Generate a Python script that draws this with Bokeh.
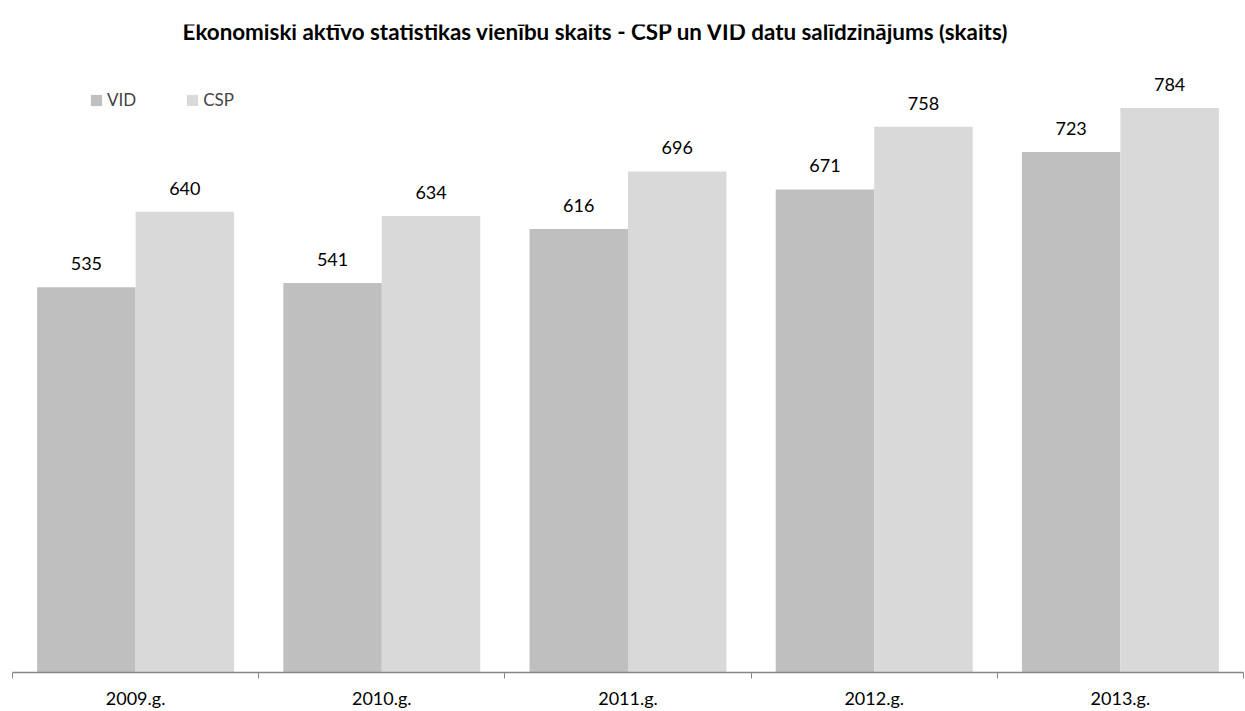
from bokeh.plotting import figure
from bokeh.models import (ColumnDataSource, Range1d, LinearAxis, FixedTicker,
                          LabelSet, Legend, LegendItem, Label)
from bokeh.core.properties import value
from bokeh.embed import file_html
from bokeh.resources import INLINE
import numpy as np

# ---- data ----
categories = ["2009.g.", "2010.g.", "2011.g.", "2012.g.", "2013.g."]
series_names = ["VID", "CSP"]
vid_values = [535, 541, 616, 671, 723]
csp_values = [640, 634, 696, 758, 784]
title_text = "Ekonomiski aktīvo statistikas vienību skaits - CSP un VID datu salīdzinājums (skaits)"

FONT = "Lato"
idx = np.arange(len(categories))

src = ColumnDataSource(dict(
    xv=idx + 0.3, xc=idx + 0.7,
    vid=vid_values, csp=csp_values,
    vid_lbl=[str(v) for v in vid_values],
    csp_lbl=[str(v) for v in csp_values],
))

p = figure(width=1245, height=711, output_backend="svg", toolbar_location=None,
           x_range=Range1d(0, len(categories)), y_range=Range1d(0, 900),
           x_axis_type=None, y_axis_type=None,
           min_border_left=12, min_border_right=2, min_border_top=24,
           min_border_bottom=38)
p.outline_line_color = None
p.xgrid.visible = False
p.ygrid.visible = False
p.background_fill_color = "white"

r_vid = p.vbar(x="xv", top="vid", width=0.4, source=src,
               fill_color="#BFBFBF", line_color=None)
r_csp = p.vbar(x="xc", top="csp", width=0.4, source=src,
               fill_color="#D9D9D9", line_color=None)

for col, lbl in (("xv", "vid"), ("xc", "csp")):
    ls = LabelSet(x=col, y=lbl, text=lbl + "_lbl", source=src,
                  text_align="center", text_baseline="alphabetic",
                  y_offset=17, text_font=value(FONT), text_font_size=value("18px"),
                  text_color="#000000")
    p.add_layout(ls)

xaxis = LinearAxis(
    ticker=FixedTicker(ticks=list(idx + 0.5), minor_ticks=list(range(len(categories) + 1))),
    major_label_overrides={float(i + 0.5): c for i, c in enumerate(categories)},
    major_tick_line_color=None, major_tick_out=0, major_tick_in=0,
    minor_tick_line_color="#868686", minor_tick_out=6, minor_tick_in=0,
    axis_line_color="#868686", axis_line_width=1.5,
    major_label_standoff=8,
    major_label_text_font=FONT, major_label_text_font_size="18px",
    major_label_text_color="#000000",
)
p.add_layout(xaxis, "below")

legend = Legend(items=[LegendItem(label=series_names[0], renderers=[r_vid]),
                       LegendItem(label=series_names[1], renderers=[r_csp])],
                orientation="horizontal", location=(77, 562),
                glyph_width=14, glyph_height=14, label_standoff=4,
                spacing=49, padding=0, margin=0, label_height=14,
                label_text_font=FONT, label_text_font_size="17px",
                background_fill_alpha=0, border_line_color=None)
p.add_layout(legend, "center")

title = Label(x=2.37, y=890, text=title_text, text_align="center",
              text_baseline="middle", text_font=FONT, text_font_style="bold",
              text_font_size="22.4px", text_color="#000000")
p.add_layout(title)

open("out.html", "w").write(file_html(p, INLINE))
